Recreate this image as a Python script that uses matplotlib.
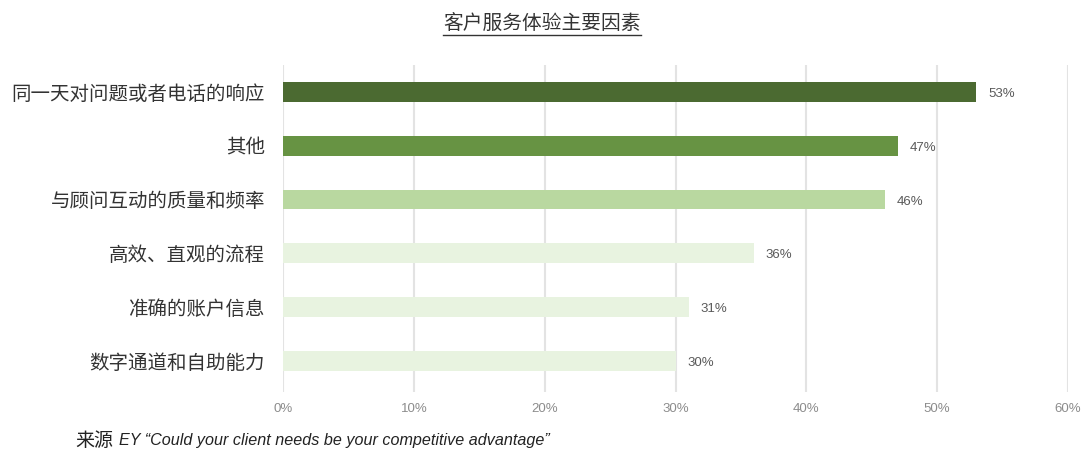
import matplotlib
matplotlib.use("Agg")
import matplotlib.pyplot as plt
from matplotlib.ticker import FuncFormatter

plt.rcParams['font.family'] = ['Noto Sans CJK SC', 'DejaVu Sans']

categories = ["同一天对问题或者电话的响应", "其他", "与顾问互动的质量和频率",
              "高效、直观的流程", "准确的账户信息", "数字通道和自助能力"]
values = [53, 47, 46, 36, 31, 30]
colors = ["#4B6A31", "#679343", "#B9D8A0", "#E8F3E0", "#E8F3E0", "#E8F3E0"]
xticks = [0, 10, 20, 30, 40, 50, 60]
title = "客户服务体验主要因素"
source_cn = "来源"
source_en = "EY “Could your client needs be your competitive advantage”"

fig = plt.figure(figsize=(10.83, 4.5), dpi=100)
ax = fig.add_axes([283/1083, 1-392/450, (1068-283)/1083, (392-65)/450])

ypos = list(range(len(categories)))
ax.barh(ypos, values, height=0.37, color=colors, zorder=3)
for y, v in zip(ypos, values):
    ax.text(v + 0.9, y + 0.04, f"{v}%", va="center", ha="left", fontsize=9.5,
            color="#595959", family="Liberation Sans")

ax.set_xlim(0, 60)
ax.set_ylim(5.58, -0.5)
ax.set_xticks(xticks)
ax.xaxis.set_major_formatter(FuncFormatter(lambda x, p: f"{int(x)}%"))
ax.set_yticks(ypos)
ax.set_yticklabels(categories, fontsize=14, color="#333333")
ax.tick_params(axis="y", length=0, pad=13)
ax.tick_params(axis="x", length=0, pad=8, labelsize=9.5, labelcolor="#8C8C8C")
for lab in ax.get_xticklabels():
    lab.set_family(["Liberation Sans Narrow", "Liberation Sans"])
ax.grid(axis="x", color="#E3E3E3", linewidth=1.5, zorder=0)
for s in ax.spines.values():
    s.set_visible(False)

fig.text(542/1083, 1-24/450, title, ha="center", va="center", fontsize=14.2, color="#333333")
fig.add_artist(plt.Line2D([443/1083, 641/1083], [1-35/450, 1-35/450], color="#333333", linewidth=1))

fig.text(75/1083, 1-441/450, source_cn, ha="left", va="center", fontsize=13.7, color="#222222")
fig.text(119/1083, 1-441/450, source_en, ha="left", va="center", fontsize=11.6, style="italic",
         color="#222222", family="Liberation Sans")

fig.savefig("out.png", dpi=100)
